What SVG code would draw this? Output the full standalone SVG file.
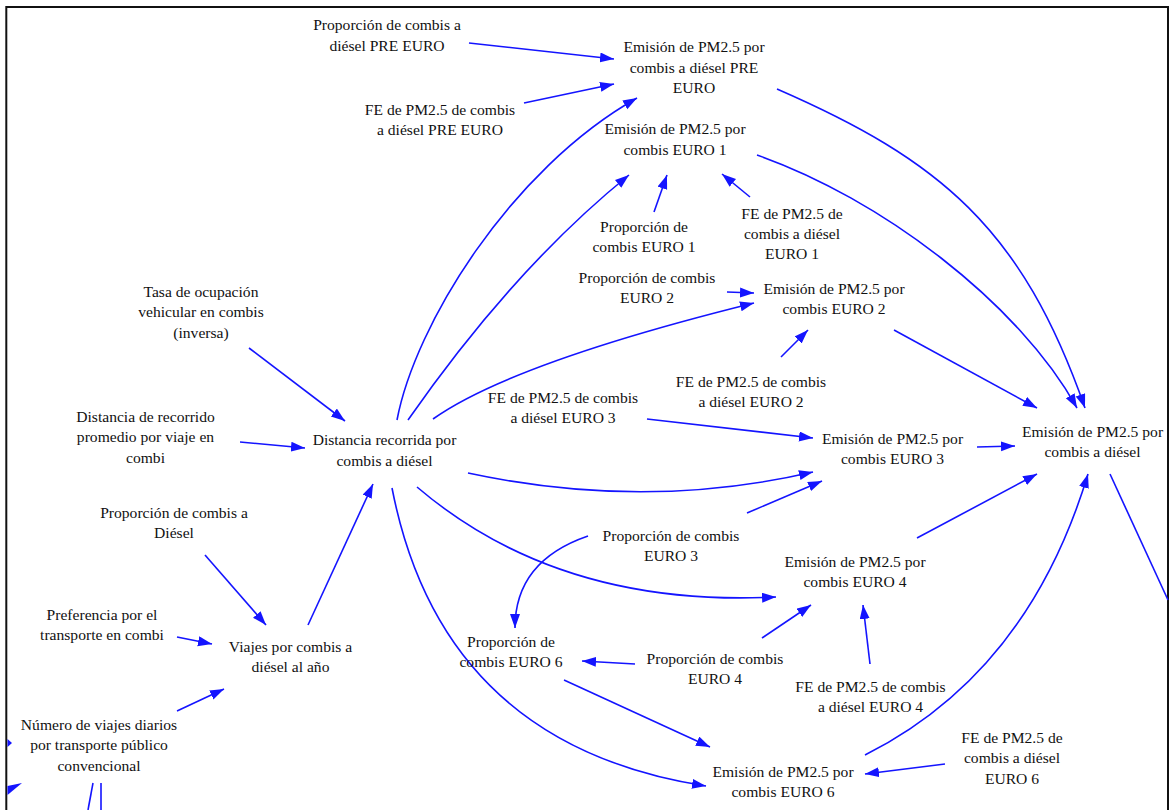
<svg xmlns="http://www.w3.org/2000/svg" width="1171" height="810" viewBox="0 0 1171 810">
<defs>
<style>
text{font-family:"Liberation Serif","Times New Roman",serif;font-size:15.6px;fill:#111;text-anchor:middle}
.c path,.c line{stroke:#1414ff;stroke-width:1.6;fill:none}
.a{marker-end:url(#ah)}
.tri{fill:#1414ff}
</style>
<marker id="ah" markerUnits="userSpaceOnUse" markerWidth="15" markerHeight="11" refX="14" refY="5" orient="auto" viewBox="0 0 15 11">
<path d="M0,0 L14,5 L0,10 z" fill="#1414ff"/>
</marker>
</defs>
<rect width="1171" height="810" fill="#fff"/>
<path d="M6.3,810 V7 H1168 V810" fill="none" stroke="#111" stroke-width="2"/>
<g class="c" id="connectors">
<line class="a" x1="469" y1="43" x2="614" y2="59"/>
<line class="a" x1="524" y1="103" x2="614" y2="84"/>
<path class="a" d="M397,420 C415,325 510,170 637,98"/>
<path class="a" d="M408,420 Q514,268 629,175"/>
<line class="a" x1="654" y1="212" x2="667" y2="175"/>
<line class="a" x1="750" y1="197" x2="722" y2="174"/>
<path class="a" d="M777,89 C940,160 1022,228 1085,408"/>
<path class="a" d="M757,155 C880,198 1019,303 1077,408"/>
<line class="a" x1="727" y1="292" x2="754" y2="293"/>
<path class="a" d="M433,419 Q512,363 754,303"/>
<line class="a" x1="781" y1="357" x2="808" y2="330"/>
<line class="a" x1="894" y1="330" x2="1037" y2="408"/>
<line class="a" x1="647" y1="419" x2="813" y2="438"/>
<line class="a" x1="977" y1="447" x2="1015" y2="446"/>
<path class="a" d="M468,473 Q645,511 813,472"/>
<line class="a" x1="747" y1="513" x2="822" y2="481"/>
<line class="a" x1="917" y1="538" x2="1037" y2="474"/>
<path class="a" d="M417,487 Q559,608 776,597"/>
<line class="a" x1="762" y1="638" x2="811" y2="605"/>
<line class="a" x1="870" y1="664" x2="863" y2="605"/>
<path class="a" d="M865,755 Q1028,673 1088,474"/>
<line x1="1110" y1="474" x2="1168" y2="600"/>
<path class="a" d="M588,536 Q515,561 515,628"/>
<line class="a" x1="635" y1="664" x2="582" y2="661"/>
<line class="a" x1="564" y1="680" x2="710" y2="747"/>
<path class="a" d="M392,488 Q442,745 706,786"/>
<line class="a" x1="945" y1="764" x2="865" y2="774"/>
<line class="a" x1="249" y1="348" x2="345" y2="421"/>
<line class="a" x1="240" y1="442" x2="305" y2="448"/>
<line class="a" x1="308" y1="625" x2="373" y2="484"/>
<line class="a" x1="205" y1="555" x2="266" y2="625"/>
<line class="a" x1="177" y1="637" x2="212" y2="644"/>
<line class="a" x1="177" y1="711" x2="224" y2="689"/>
<line x1="93" y1="783" x2="88" y2="810"/>
<line x1="101" y1="783" x2="101" y2="810"/>
<polygon class="tri" points="7.5,739 12,743 7.5,747"/>
<polygon class="tri" points="7.5,786 22,783 7.5,795"/>
</g>
<g id="prop_pre"><text><tspan x="387" y="30">Proporción de combis a</tspan><tspan x="387" y="51">diésel PRE EURO</tspan></text></g>
<g id="em_pre"><text><tspan x="694" y="52">Emisión de PM2.5 por</tspan><tspan x="694" y="73">combis a diésel PRE</tspan><tspan x="694" y="93">EURO</tspan></text></g>
<g id="fe_pre"><text><tspan x="440" y="115">FE de PM2.5 de combis</tspan><tspan x="440" y="135">a diésel PRE EURO</tspan></text></g>
<g id="em_e1"><text><tspan x="675" y="134">Emisión de PM2.5 por</tspan><tspan x="675" y="155">combis EURO 1</tspan></text></g>
<g id="prop_e1"><text><tspan x="644" y="232">Proporción de</tspan><tspan x="644" y="252">combis EURO 1</tspan></text></g>
<g id="fe_e1"><text><tspan x="792" y="219">FE de PM2.5 de</tspan><tspan x="792" y="239">combis a diésel</tspan><tspan x="792" y="259">EURO 1</tspan></text></g>
<g id="prop_e2"><text><tspan x="647" y="283">Proporción de combis</tspan><tspan x="647" y="303">EURO 2</tspan></text></g>
<g id="em_e2"><text><tspan x="834" y="294">Emisión de PM2.5 por</tspan><tspan x="834" y="314">combis EURO 2</tspan></text></g>
<g id="tasa"><text><tspan x="201" y="297">Tasa de ocupación</tspan><tspan x="201" y="317">vehicular en combis</tspan><tspan x="201" y="338">(inversa)</tspan></text></g>
<g id="dist_prom"><text><tspan x="145.5" y="422">Distancia de recorrido</tspan><tspan x="145.5" y="442">promedio por viaje en</tspan><tspan x="145.5" y="463">combi</tspan></text></g>
<g id="dist"><text><tspan x="384.5" y="445">Distancia recorrida por</tspan><tspan x="384.5" y="466">combis a diésel</tspan></text></g>
<g id="fe_e3"><text><tspan x="563" y="403">FE de PM2.5 de combis</tspan><tspan x="563" y="423">a diésel EURO 3</tspan></text></g>
<g id="fe_e2"><text><tspan x="751" y="387">FE de PM2.5 de combis</tspan><tspan x="751" y="407">a diésel EURO 2</tspan></text></g>
<g id="em_e3"><text><tspan x="892.5" y="444">Emisión de PM2.5 por</tspan><tspan x="892.5" y="464">combis EURO 3</tspan></text></g>
<g id="em_diesel"><text><tspan x="1092.5" y="437">Emisión de PM2.5 por</tspan><tspan x="1092.5" y="457">combis a diésel</tspan></text></g>
<g id="prop_diesel"><text><tspan x="174" y="518">Proporción de combis a</tspan><tspan x="174" y="538">Diésel</tspan></text></g>
<g id="prop_e3"><text><tspan x="671" y="541">Proporción de combis</tspan><tspan x="671" y="561">EURO 3</tspan></text></g>
<g id="em_e4"><text><tspan x="855" y="567">Emisión de PM2.5 por</tspan><tspan x="855" y="587">combis EURO 4</tspan></text></g>
<g id="pref"><text><tspan x="102" y="620">Preferencia por el</tspan><tspan x="102" y="640">transporte en combi</tspan></text></g>
<g id="viajes"><text><tspan x="290.5" y="652">Viajes por combis a</tspan><tspan x="290.5" y="672">diésel al año</tspan></text></g>
<g id="prop_e6"><text><tspan x="511" y="647">Proporción de</tspan><tspan x="511" y="667">combis EURO 6</tspan></text></g>
<g id="prop_e4"><text><tspan x="715" y="664">Proporción de combis</tspan><tspan x="715" y="684">EURO 4</tspan></text></g>
<g id="fe_e4"><text><tspan x="870.5" y="692">FE de PM2.5 de combis</tspan><tspan x="870.5" y="712">a diésel EURO 4</tspan></text></g>
<g id="numero"><text><tspan x="99" y="730">Número de viajes diarios</tspan><tspan x="99" y="750">por transporte público</tspan><tspan x="99" y="771">convencional</tspan></text></g>
<g id="em_e6"><text><tspan x="783" y="777">Emisión de PM2.5 por</tspan><tspan x="783" y="797">combis EURO 6</tspan></text></g>
<g id="fe_e6"><text><tspan x="1012" y="743">FE de PM2.5 de</tspan><tspan x="1012" y="763">combis a diésel</tspan><tspan x="1012" y="784">EURO 6</tspan></text></g>
</svg>
